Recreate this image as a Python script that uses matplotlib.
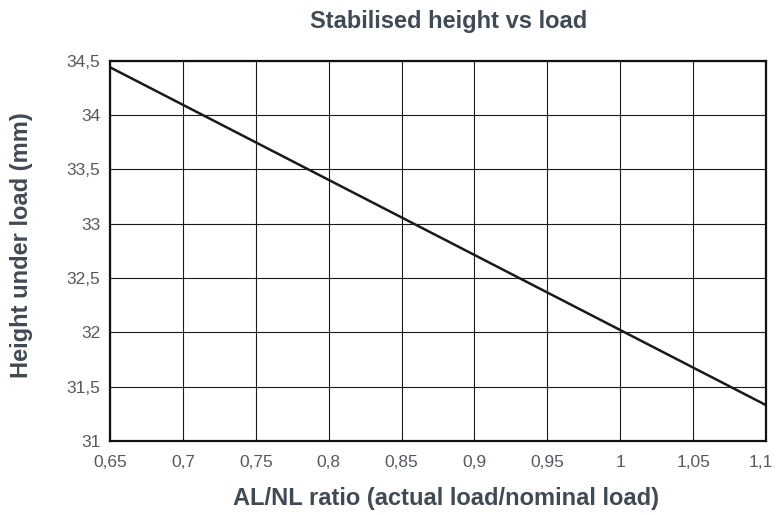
import matplotlib
matplotlib.use('Agg')
import matplotlib.pyplot as plt
import matplotlib.transforms as mtransforms
from matplotlib.ticker import FuncFormatter

plt.rcParams['font.family'] = ['Liberation Sans', 'DejaVu Sans']

# data
ratio = [0.65, 1.1]
height = [34.44, 31.33]
xticks = [0.65, 0.7, 0.75, 0.8, 0.85, 0.9, 0.95, 1.0, 1.05, 1.1]
yticks = [31, 31.5, 32, 32.5, 33, 33.5, 34, 34.5]

text_col = '#3f4a55'
tick_col = '#555a60'

fig = plt.figure(figsize=(7.76, 5.15), dpi=100)
ax = fig.add_axes([0.1418, 0.1437, 0.8454, 0.7383])

ax.plot(ratio, height, color='#1a1a1a', linewidth=1.8, solid_capstyle='butt')

ax.set_xlim(0.65, 1.1)
ax.set_ylim(31, 34.5)
ax.set_xticks(xticks)
ax.set_yticks(yticks)

comma = FuncFormatter(lambda v, p: ('%g' % round(v, 2)).replace('.', ','))
ax.xaxis.set_major_formatter(comma)
ax.yaxis.set_major_formatter(comma)

ax.grid(True, color='#1a1a1a', linewidth=0.8)
ax.tick_params(length=0, labelsize=12.5, colors=tick_col)
ax.tick_params(axis='x', pad=10)
ax.tick_params(axis='y', pad=7)
for s in ax.spines.values():
    s.set_linewidth(1.6)
    s.set_color('#111111')

# last x label sits against the right edge, nudge it inside
fig.canvas.draw()
last = ax.get_xticklabels()[-1]
last.set_transform(last.get_transform() +
                   mtransforms.ScaledTranslation(-4 / 72, 0, fig.dpi_scale_trans))

fig.text(449 / 776, 1 - 28 / 515, 'Stabilised height vs load', fontsize=17,
         fontweight='bold', color=text_col, ha='center', va='baseline')
fig.text(446 / 776, 1 - 505 / 515, 'AL/NL ratio (actual load/nominal load)',
         fontsize=17, fontweight='bold', color=text_col, ha='center', va='baseline')
fig.text(22 / 776, 1 - 245 / 515, 'Height under load (mm)', fontsize=17,
         fontweight='bold', color=text_col, ha='center', va='center', rotation=90)

plt.savefig('out.png', dpi=100)
